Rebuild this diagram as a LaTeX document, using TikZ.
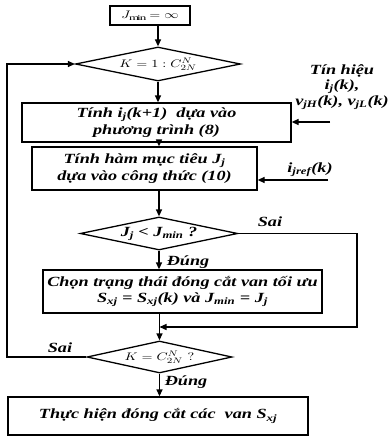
\documentclass[tikz,border=0pt]{standalone}
\usepackage{fontspec}
\setmainfont[FakeStretch=1.3]{Liberation Serif}
\usetikzlibrary{shapes.geometric,arrows.meta,calc}
\newcommand{\wm}[1]{\scalebox{1.3}[1]{#1}}
\begin{document}
\begin{tikzpicture}[x=1pt,y=-1pt,
  line width=1.3pt,
  bi/.style={font=\fontsize{14}{16.5}\selectfont\bfseries\itshape},
  box/.style={draw, rectangle, inner sep=0pt, align=center, bi},
  dia/.style={draw, diamond, inner sep=0pt, aspect=6},
  mfont/.style={font=\fontsize{11}{13}\selectfont},
  arr/.style={-{Triangle[length=7pt,width=6pt]}},
  lbl/.style={bi, inner sep=0pt, align=center}
]
\useasboundingbox (0,0) rectangle (391,436);
\node[box, minimum width=80, minimum height=19, mfont] (start) at (150,15.5) {\wm{$J_{\min}=\infty$}};
\node[dia, minimum width=165, minimum height=34, mfont] (d1) at (158,64) {\wm{$K=1:C_{2N}^{N}$}};
\node[box, minimum width=269, minimum height=39] (b2) at (156.5,122.5) {Tính i\textsubscript{j}(k+1)\ \ dựa vào\\ phương trình (8)};
\node[box, minimum width=225, minimum height=43] (b3) at (144.5,168.5) {Tính hàm mục tiêu J\textsubscript{j}\\ dựa vào công thức (10)};
\node[dia, minimum width=152, minimum height=33, bi] (d2) at (159,233.5) {J\textsubscript{j} < J\textsubscript{min} ?};
\node[box, minimum width=279, minimum height=43] (b4) at (182.5,291.5) {Chọn trạng thái đóng cắt van tối ưu\\ S\textsubscript{xj} = S\textsubscript{xj}(k) và J\textsubscript{min} = J\textsubscript{j}};
\node[dia, minimum width=145, minimum height=32, mfont] (d3) at (159.5,357) {\wm{$K=C_{2N}^{N}\ ?$}};
\node[box, minimum width=300, minimum height=38] (b5) at (158,416) {Thực hiện đóng cắt các\ \ van S\textsubscript{xj}};
% labels
\node[lbl, font=\fontsize{14}{15.5}\selectfont\bfseries\itshape] (tin) at (342,87) {Tín hiệu\\ i\textsubscript{j}(k),\\ v\textsubscript{jH}(k), v\textsubscript{jL}(k)};
\node[lbl] (iref) at (310,170) {i\textsubscript{jref}(k)};
\node[lbl] (sai1) at (270,222) {Sai};
\node[lbl] (dung1) at (188,262) {Đúng};
\node[lbl] (sai2) at (60,348) {Sai};
\node[lbl] (dung2) at (186,382) {Đúng};
\coordinate (in1) at (330,122);
\coordinate (in2) at (328,180);
\coordinate (rt) at (357,327);
\coordinate (lft) at (7,357);
% connectors
\draw[arr] (d1.north |- start.south) -- (d1.north);
\draw[arr] (d1.south) -- (d1.south |- b2.north);
\draw[arr] (d2.north |- b2.south) -- (d2.north |- b3.north);
\draw[arr] (d2.north |- b3.south) -- (d2.north);
\draw[arr] (d2.south) -- (d2.south |- b4.north);
\draw[arr] (d3.north |- b4.south) -- (d3.north);
\draw[arr] (d2.east) -| (rt) -- (rt -| d3.north);
\draw[arr] (d3.south) -- (d3.south |- b5.north);
\draw[arr] (d3.west) -- (lft) |- (d1.west);
\draw[arr] (in1) -- (in1 -| b2.east);
\draw[arr] (in2) -- (in2 -| b3.east);
\end{tikzpicture}
\end{document}
